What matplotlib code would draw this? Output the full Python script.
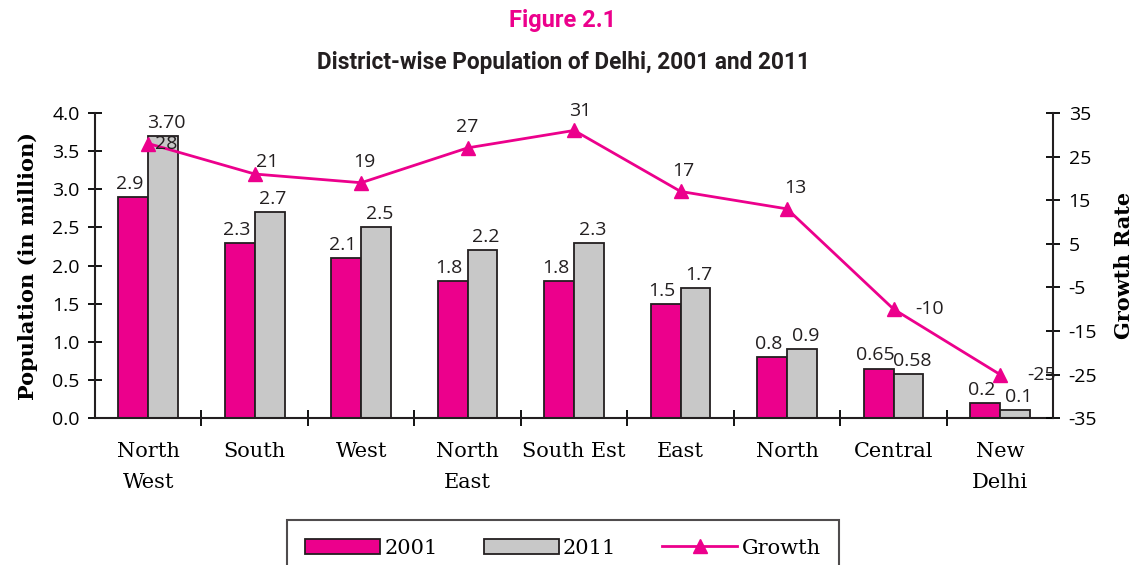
import matplotlib.pyplot as plt
from matplotlib.patches import Patch
from matplotlib.lines import Line2D
import numpy as np

districts = ["North\nWest", "South", "West", "North\nEast", "South Est",
             "East", "North", "Central", "New\nDelhi"]
pop_2001 = [2.9, 2.3, 2.1, 1.8, 1.8, 1.5, 0.8, 0.65, 0.2]
pop_2011 = [3.70, 2.7, 2.5, 2.2, 2.3, 1.7, 0.9, 0.58, 0.1]
lbl_2001 = ["2.9", "2.3", "2.1", "1.8", "1.8", "1.5", "0.8", "0.65", "0.2"]
lbl_2011 = ["3.70", "2.7", "2.5", "2.2", "2.3", "1.7", "0.9", "0.58", "0.1"]
growth = [28, 21, 19, 27, 31, 17, 13, -10, -25]

PINK = "#EC008C"
GREY = "#C8C8C8"
EDGE = "#231F20"
SERIF = "DejaVu Serif"
SANS = "Open Sans"

# label offsets for growth numbers (points)
g_off = [(13, 0), (9, 9), (2, 15), (0, 15), (4, 14), (2, 15), (6, 15), (26, 0), (30, 0)]

fig = plt.figure(figsize=(11.36, 5.65), dpi=100)
ax = fig.add_axes([0.0836, 0.26, 0.8436, 0.54])
x = np.arange(len(districts))
w = 0.28

ax.bar(x - w / 2, pop_2001, w, color=PINK, edgecolor=EDGE, linewidth=1.3, zorder=2)
ax.bar(x + w / 2, pop_2011, w, color=GREY, edgecolor=EDGE, linewidth=1.3, zorder=2)
for i in range(len(x)):
    ax.annotate(lbl_2001[i], (x[i] - w / 2, pop_2001[i]), xytext=(-2.5, 3),
                textcoords="offset points", ha="center", va="bottom",
                fontsize=14, family=SANS, color=EDGE)
    ax.annotate(lbl_2011[i], (x[i] + w / 2, pop_2011[i]), xytext=(2.5, 3),
                textcoords="offset points", ha="center", va="bottom",
                fontsize=14, family=SANS, color=EDGE)

ax.set_xlim(-0.5, len(x) - 0.5)
ax.set_ylim(0, 4.0)
ax.set_yticks(np.arange(0, 4.01, 0.5))
ax.set_yticklabels([f"{v:.1f}" for v in np.arange(0, 4.01, 0.5)], family=SANS, fontsize=14)
ax.set_xticks(x)
ax.set_xticklabels(districts, family=SERIF, fontsize=15, linespacing=1.85)
ax.set_xticks(np.arange(0.5, len(x) - 0.5, 1), minor=True)
ax.tick_params(axis="x", which="major", length=0, pad=17)
ax.tick_params(axis="x", which="minor", direction="inout", length=12, width=1.3)
ax.tick_params(axis="y", direction="inout", length=10, width=1.3, pad=6)
ax.spines["top"].set_visible(False)
ax.spines["right"].set_visible(False)
for s in ("left", "bottom"):
    ax.spines[s].set_linewidth(1.5)
    ax.spines[s].set_color(EDGE)
ax.set_ylabel("Population (in million)", family=SERIF, fontweight="bold", fontsize=15, labelpad=10)

ax2 = ax.twinx()
ax2.plot(x, growth, color=PINK, marker="^", markersize=10, linewidth=2, zorder=3)
for i in range(len(x)):
    ax2.annotate(str(growth[i]), (x[i], growth[i]), xytext=g_off[i],
                 textcoords="offset points", ha="center", va="center",
                 fontsize=14, family=SANS, color=EDGE)
ax2.set_ylim(-35, 35)
ax2.set_yticks(np.arange(-35, 36, 10))
ax2.set_yticklabels([str(v) for v in np.arange(-35, 36, 10)], family=SANS, fontsize=14)
ax2.tick_params(axis="y", direction="inout", length=10, width=1.3, pad=6)
for s in ("top", "left", "bottom"):
    ax2.spines[s].set_visible(False)
ax2.spines["right"].set_linewidth(1.5)
ax2.spines["right"].set_color(EDGE)
ax2.set_ylabel("Growth Rate", family=SERIF, fontweight="bold", fontsize=15, labelpad=12)

fig.text(0.4956, 0.963, "Figure 2.1", ha="center", va="center", color=PINK,
         fontsize=17, fontweight="bold", family="Roboto")
fig.text(0.4956, 0.89, "District-wise Population of Delhi, 2001 and 2011", ha="center",
         va="center", color=EDGE, fontsize=16.3, fontweight="bold", family="Roboto")

handles = [Patch(facecolor=PINK, edgecolor=EDGE, linewidth=1.3),
           Patch(facecolor=GREY, edgecolor=EDGE, linewidth=1.3),
           Line2D([], [], color=PINK, marker="^", markersize=10, linewidth=2)]
leg = fig.legend(handles, ["2001", "2011", "Growth"], loc="upper center",
                 bbox_to_anchor=(0.4956, 0.08), ncol=3, frameon=True, fancybox=False,
                 edgecolor=EDGE, prop={"family": SERIF, "size": 15}, columnspacing=2.2,
                 handlelength=3.6, handletextpad=0.2, borderpad=0.9, borderaxespad=0)
leg.get_frame().set_linewidth(1.5)

fig.savefig("out.png", dpi=100)
